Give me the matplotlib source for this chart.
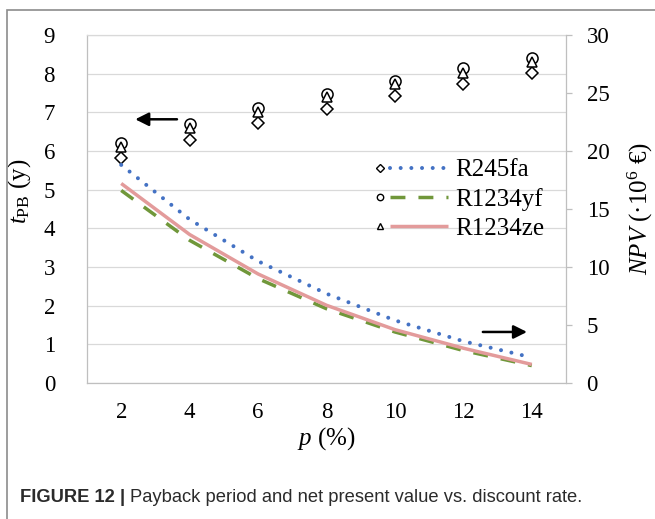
import matplotlib
matplotlib.use("Agg")
import matplotlib.pyplot as plt
from matplotlib.lines import Line2D
from matplotlib.patches import Rectangle
from matplotlib.legend_handler import HandlerBase

# ---- data -------------------------------------------------------------
discount_rate = [2, 4, 6, 8, 10, 12, 14]          # p (%)
fluids = ["R245fa", "R1234yf", "R1234ze"]

# payback period t_PB (years), left axis
tpb_r245fa = [5.81, 6.28, 6.72, 7.09, 7.42, 7.72, 8.01]
tpb_r1234yf = [6.20, 6.70, 7.10, 7.47, 7.82, 8.14, 8.40]
tpb_r1234ze = [6.10, 6.59, 7.02, 7.39, 7.73, 8.03, 8.29]

# net present value (10^6 EUR), right axis
npv_r245fa = [18.8, 14.1, 10.5, 7.7, 5.4, 3.6, 2.2]
npv_r1234yf = [16.6, 12.3, 9.0, 6.4, 4.4, 2.8, 1.5]
npv_r1234ze = [17.2, 12.8, 9.4, 6.7, 4.6, 3.0, 1.6]

left_ticks = list(range(0, 10))
right_ticks = [0, 5, 10, 15, 20, 25, 30]

# ---- style ------------------------------------------------------------
plt.rcParams["font.family"] = ["Liberation Serif", "DejaVu Serif"]
plt.rcParams["mathtext.fontset"] = "custom"
plt.rcParams["mathtext.rm"] = "Liberation Serif"
plt.rcParams["mathtext.it"] = "Liberation Serif:italic"
plt.rcParams["mathtext.bf"] = "Liberation Serif:bold"

AXIS_GREY = "#BFBFBF"
GRID_GREY = "#D9D9D9"
TICK_FS = 16.5
LABEL_FS = 18

line_styles = {
    "R245fa": dict(color="#4472C4", lw=2.9, linestyle=(0, (0.001, 2.65)),
                   dash_capstyle="round"),
    "R1234yf": dict(color="#70973A", lw=2.5, linestyle=(0, (4.3, 3.75)),
                    dash_capstyle="butt"),
    "R1234ze": dict(color="#E39B9B", lw=2.5, linestyle="-",
                    solid_capstyle="butt"),
}
marker_styles = {
    "R245fa": dict(marker="D", ms=6.0),
    "R1234yf": dict(marker="o", ms=8.0),
    "R1234ze": dict(marker="^", ms=7.0),
}

fig = plt.figure(figsize=(6.55, 5.19), dpi=100)
W, H = 655, 519
ax = fig.add_axes([87 / W, 1 - 383 / H, (566 - 87) / W, (383 - 35) / H])
ax2 = ax.twinx()

# ---- payback period markers (left axis) -------------------------------
tpb = {"R245fa": tpb_r245fa, "R1234yf": tpb_r1234yf, "R1234ze": tpb_r1234ze}
marker_handles = {}
for name in fluids:
    ms = marker_styles[name]
    h, = ax.plot(discount_rate, tpb[name], linestyle="none",
                 marker=ms["marker"], markersize=ms["ms"],
                 markerfacecolor="white", markeredgecolor="black",
                 markeredgewidth=1.1, zorder=3)
    marker_handles[name] = h

# ---- NPV curves (right axis) ------------------------------------------
npv = {"R245fa": npv_r245fa, "R1234yf": npv_r1234yf, "R1234ze": npv_r1234ze}
line_handles = {}
for name in fluids:
    h, = ax2.plot(discount_rate, npv[name], **line_styles[name])
    line_handles[name] = h

# ---- axes -------------------------------------------------------------
ax.set_xlim(1, 15)
ax.set_ylim(0, 9)
ax2.set_ylim(0, 30)
ax.set_xticks(discount_rate)
ax.set_xticklabels([str(v) for v in discount_rate])
ax.set_yticks(left_ticks)
ax2.set_yticks(right_ticks)

ax.set_axisbelow(True)
ax.yaxis.grid(True, color=GRID_GREY, lw=0.9)
ax.xaxis.grid(False)

for s in ("left", "bottom"):
    ax.spines[s].set_color(AXIS_GREY)
    ax.spines[s].set_linewidth(0.9)
ax.spines["top"].set_color(GRID_GREY)
ax.spines["top"].set_linewidth(0.9)
ax.spines["right"].set_visible(False)
for s in ("left", "bottom", "top"):
    ax2.spines[s].set_visible(False)
ax2.spines["right"].set_color(AXIS_GREY)
ax2.spines["right"].set_linewidth(0.9)

ax.tick_params(axis="x", length=0, pad=13.5, labelsize=TICK_FS)
ax.tick_params(axis="y", length=0, pad=23, labelsize=TICK_FS)
ax2.tick_params(axis="y", direction="out", length=4.3, width=0.9,
                color=AXIS_GREY, pad=10.5, labelsize=TICK_FS)

ax.set_xlabel(r"$p$ (%)", fontsize=LABEL_FS)
ax.xaxis.set_label_coords(0.5, -0.12)
ax.set_ylabel(r"$t_{\mathrm{PB}}$ (y)", fontsize=LABEL_FS)
ax.yaxis.set_label_coords(-0.112, 0.55)
ax2.set_ylabel(r"$NPV$ (·10$^{6}$ €)", fontsize=LABEL_FS)
ax2.yaxis.set_label_coords(1.125, 0.5)

# ---- axis-pointer arrows ------------------------------------------------
arrow_kw = dict(arrowstyle="-|>", color="black", lw=1.8,
                mutation_scale=20, shrinkA=0, shrinkB=0)
ax.annotate("", xy=(2.41, 6.82), xytext=(3.63, 6.82), arrowprops=arrow_kw)
ax2.annotate("", xy=(13.86, 4.4), xytext=(12.57, 4.4), arrowprops=arrow_kw)


# ---- legend: small marker followed by the line sample -----------------
class MarkerThenLine(HandlerBase):
    def create_artists(self, legend, orig_handle, xdescent, ydescent,
                       width, height, fontsize, trans):
        mk_src, ln_src = orig_handle
        y = height / 2 - ydescent
        x0 = -xdescent
        mk = Line2D([x0 + 0.07 * width], [y], linestyle="none",
                    marker=mk_src.get_marker(),
                    markersize=4.0 if mk_src.get_marker() == "D" else 4.6,
                    markerfacecolor="white", markeredgecolor="black",
                    markeredgewidth=1.0)
        ln = Line2D([x0 + 0.215 * width, x0 + width], [y, y])
        ln.update_from(ln_src)
        ln.set_marker("none")
        mk.set_transform(trans)
        ln.set_transform(trans)
        return [mk, ln]


handles = [(marker_handles[n], line_handles[n]) for n in fluids]
leg = ax2.legend(handles, fluids, handler_map={tuple: MarkerThenLine()},
                 loc="center left", bbox_to_anchor=(0.600, 0.528),
                 frameon=False, fontsize=LABEL_FS, handlelength=2.95,
                 handletextpad=0.28, labelspacing=0.26, borderpad=0,
                 borderaxespad=0)

# ---- page frame and caption -------------------------------------------
frame = Rectangle((7 / W, -0.05), 1.2, 1.05 - 9.5 / H,
                  transform=fig.transFigure, fill=False,
                  edgecolor="#8C8C8C", lw=1.2)
fig.add_artist(frame)

CAP_FS = 13.2
cap1 = fig.text(20 / W, 1 - 502 / H, "FIGURE 12 |", fontfamily="Liberation Sans",
                fontweight="bold", fontsize=CAP_FS, color="#2B2B2B",
                va="baseline")
fig.canvas.draw()
ax.annotate("Payback period and net present value vs. discount rate.",
            xy=(1, 0), xycoords=cap1, xytext=(3.5, 0),
            textcoords="offset points", va="bottom", ha="left",
            fontfamily="Liberation Sans", fontsize=CAP_FS, color="#2B2B2B",
            annotation_clip=False)

fig.savefig("out.png", dpi=100)
